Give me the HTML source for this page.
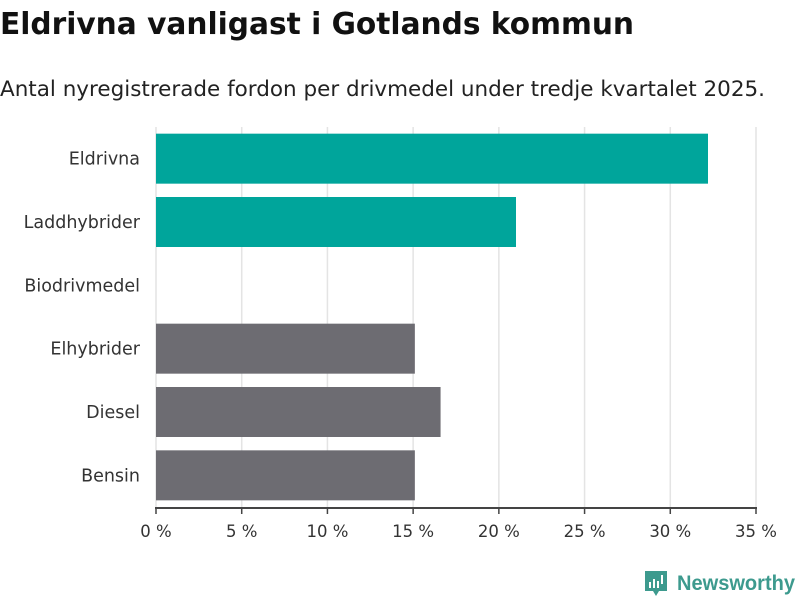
<!DOCTYPE html>
<html><head><meta charset="utf-8"><style>
body{margin:0;width:800px;height:600px;background:#fff;font-family:"DejaVu Sans","Liberation Sans",sans-serif;overflow:hidden}
svg{position:absolute;left:0;top:0}
</style></head><body>
<svg id="c" width="800" height="600">
<text x="0" y="34" font-size="30" font-weight="bold" fill="#111" textLength="634" lengthAdjust="spacingAndGlyphs">Eldrivna vanligast i Gotlands kommun</text>
<text x="0" y="96" font-size="21" fill="#222" textLength="765" lengthAdjust="spacingAndGlyphs">Antal nyregistrerade fordon per drivmedel under tredje kvartalet 2025.</text>
<g id="grid"></g><g id="bars"></g><g id="axis"></g>
<g>
<path d="M645 571h22v20h-8l-3 5-3-5h-8z" fill="#3d9a8e"/>
<rect x="649" y="582" width="2" height="6" fill="#fff"/><rect x="653" y="579" width="2" height="9" fill="#fff"/><rect x="657" y="581" width="2" height="7" fill="#fff"/><rect x="661" y="575" width="2" height="9" fill="#fff"/>
<text x="677" y="590" font-size="21" font-weight="bold" font-family="Liberation Sans,sans-serif" fill="#3d9a8e" textLength="118" lengthAdjust="spacingAndGlyphs">Newsworthy</text>
</g>
</svg>
<script>
const categories=["Eldrivna","Laddhybrider","Biodrivmedel","Elhybrider","Diesel","Bensin"];
const values=[32.2,21.0,0,15.1,16.6,15.1];
const highlight=[true,true,true,false,false,false];
const ticks=[0,5,10,15,20,25,30,35];
const tickLabels=["0 %","5 %","10 %","15 %","20 %","25 %","30 %","35 %"];
const NS="http://www.w3.org/2000/svg";
const x0=156,x1=756,yTop=127,yBot=507;
const xs=v=>x0+(v/35)*(x1-x0);
const band=(yBot-yTop)/categories.length;
function mk(t,a,p){const e=document.createElementNS(NS,t);for(const k in a)e.setAttribute(k,a[k]);p.appendChild(e);return e;}
const grid=document.getElementById('grid'),bars=document.getElementById('bars'),axis=document.getElementById('axis');
ticks.forEach((t,i)=>{
 const g=mk('line',{x1:xs(t),x2:xs(t),y1:yTop,y2:yBot,stroke:'#e4e4e4','stroke-width':1.5},grid);
 
 
 const tk=mk('line',{x1:xs(t),x2:xs(t),y1:508,y2:514,stroke:'#444','stroke-width':1.5},axis);
 
 
 const tl=mk('text',{x:xs(t),y:537,'font-size':16.5,'text-anchor':'middle',fill:'#333'},axis);
 tl.textContent=tickLabels[i];
 
 
});
const ax=mk('line',{x1:x0-1,x2:x1+1,y1:508,y2:508,stroke:'#444','stroke-width':2},axis);


categories.forEach((c,i)=>{
 const yc=yTop+band*i+band/2;
 const r=mk('rect',{x:x0,y:yc-25,width:xs(values[i])-x0,height:50,fill:highlight[i]?'#00a59b':'#6d6c72'},bars);
 
 
 const l=mk('text',{x:140,y:yc+6,'font-size':17.5,'text-anchor':'end',fill:'#333'},axis);
 l.textContent=c;
 
 
});
</script>
</body></html>
